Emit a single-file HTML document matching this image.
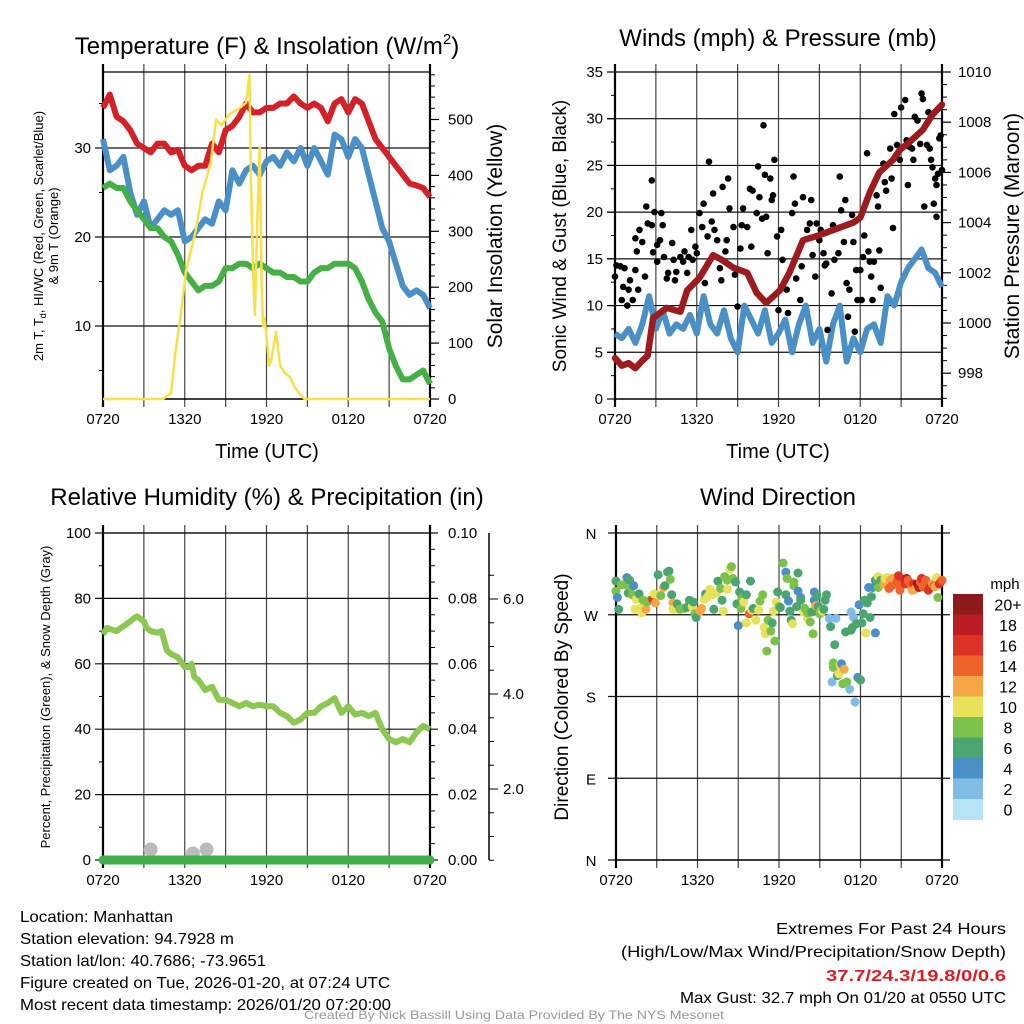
<!DOCTYPE html>
<html><head><meta charset="utf-8"><title>Mesonet Manhattan</title>
<style>
html,body{margin:0;padding:0;background:#fff;}
svg{display:block;font-family:"Liberation Sans",Arial,sans-serif;}
</style></head>
<body>
<svg id="chart" width="1024" height="1024" viewBox="0 0 1024 1024" xmlns="http://www.w3.org/2000/svg">
<rect x="0" y="0" width="1024" height="1024" fill="#fff"/>
<g id="layer"></g>
<!-- titles -->
<text x="267" y="54" font-size="24" text-anchor="middle">Temperature (F) &amp; Insolation (W/m<tspan font-size="15" dy="-10">2</tspan><tspan dy="10">)</tspan></text>
<text x="778" y="46" font-size="24" text-anchor="middle">Winds (mph) &amp; Pressure (mb)</text>
<text x="267" y="505" font-size="24" text-anchor="middle">Relative Humidity (%) &amp; Precipitation (in)</text>
<text x="778" y="505" font-size="24" text-anchor="middle">Wind Direction</text>
<!-- axis titles -->
<text x="267" y="458" font-size="20" text-anchor="middle">Time (UTC)</text>
<text x="778" y="458" font-size="20" text-anchor="middle">Time (UTC)</text>
<text transform="translate(43,236) rotate(-90)" font-size="13" text-anchor="middle">2m T, T<tspan font-size="9" dy="3">d</tspan><tspan dy="-3">, HI/WC (Red, Green, Scarlet/Blue)</tspan></text>
<text transform="translate(58,236) rotate(-90)" font-size="13" text-anchor="middle">&amp; 9m T (Orange)</text>
<text transform="translate(502,236) rotate(-90)" font-size="21" text-anchor="middle">Solar Insolation (Yellow)</text>
<text transform="translate(566,236) rotate(-90)" font-size="19" text-anchor="middle">Sonic Wind &amp; Gust (Blue, Black)</text>
<text transform="translate(1019,236) rotate(-90)" font-size="21" text-anchor="middle">Station Pressure (Maroon)</text>
<text transform="translate(50,697) rotate(-90)" font-size="13" text-anchor="middle">Percent, Precipitation (Green), &amp; Snow Depth (Gray)</text>
<text transform="translate(568,697) rotate(-90)" font-size="19" text-anchor="middle">Direction (Colored By Speed)</text>
<text x="1005" y="589" font-size="15" text-anchor="middle">mph</text>
<!-- footer -->
<g font-size="16">
<text x="20" y="922" textLength="153" lengthAdjust="spacingAndGlyphs">Location: Manhattan</text>
<text x="20" y="944" textLength="214" lengthAdjust="spacingAndGlyphs">Station elevation: 94.7928 m</text>
<text x="20" y="966" textLength="246" lengthAdjust="spacingAndGlyphs">Station lat/lon: 40.7686; -73.9651</text>
<text x="20" y="988" textLength="370" lengthAdjust="spacingAndGlyphs">Figure created on Tue, 2026-01-20, at 07:24 UTC</text>
<text x="20" y="1010" textLength="371" lengthAdjust="spacingAndGlyphs">Most recent data timestamp: 2026/01/20 07:20:00</text>
</g>
<g font-size="16">
<text x="776" y="934" textLength="230" lengthAdjust="spacingAndGlyphs">Extremes For Past 24 Hours</text>
<text x="621" y="957" textLength="385" lengthAdjust="spacingAndGlyphs">(High/Low/Max Wind/Precipitation/Snow Depth)</text>
<text x="826" y="981" textLength="180" lengthAdjust="spacingAndGlyphs" font-weight="bold" fill="#d42027">37.7/24.3/19.8/0/0.6</text>
<text x="680" y="1003" textLength="326" lengthAdjust="spacingAndGlyphs">Max Gust: 32.7 mph On 01/20 at 0550 UTC</text>
</g>
<text x="304" y="1019" font-size="12" fill="#999" textLength="420" lengthAdjust="spacingAndGlyphs">Created By Nick Bassill Using Data Provided By The NYS Mesonet</text>
</svg>
<script>
// ---------- data ----------
const xTickLabels = ["0720","1320","1920","0120","0720"];
const halfHours = [0,0.5,1,1.5,2,2.5,3,3.5,4,4.5,5,5.5,6,6.5,7,7.5,8,8.5,9,9.5,10,10.5,11,11.5,12,12.5,13,13.5,14,14.5,15,15.5,16,16.5,17,17.5,18,18.5,19,19.5,20,20.5,21,21.5,22,22.5,23,23.5,24];
const tempValues = [34.5,36,33.5,33,32,30.5,30,29.5,30.5,30.5,29.5,29.8,28,27.5,28,28,30.5,29.5,32,32.5,33.5,35,34,34,34.5,34.5,35,35,35.8,35,34.5,35,34.5,33,35,35.5,34,35.5,35,33,31,30,29,28,27,26,25.8,25.5,24.5];
const windChillValues = [31,27.5,28,29,25,22.5,24,21,22,23,22.5,23,19.5,20,21,22,21.5,24,23,27.5,26,27.5,28,27,28.5,29,28,29.5,28.5,30,28,30,28.5,27,31.5,31,29,31,30,27,24,21,19.5,17,14.5,13.5,14,13.5,12];
const dewpointValues = [25.5,26,25.5,25.5,24,23,22,21,21,20,19.5,18,16,15,14,14.5,14.5,15,16.5,16.5,17,17,16.5,17,16.5,16,16,15.5,15.5,15,15,16,16.5,16.5,17,17,17,16.5,15,13,11.5,10.5,7.5,5.5,4,4,4.5,5,3.5];
const tempTicks = [10,20,30];
const insolTicks = [0,100,200,300,400,500];
const insolHours = [0,4.4,5.0,5.3,5.7,6.1,6.8,7.3,7.9,8.3,8.7,9.3,10.0,10.5,10.75,10.85,11.05,11.15,11.3,11.5,11.65,11.75,11.85,12.05,12.2,12.35,12.7,13.0,13.4,13.7,14.1,14.4,14.8,24];
const insolValues = [0,0,10,80,150,230,300,370,420,500,490,510,520,530,580,400,200,150,300,450,200,130,145,100,60,70,120,60,45,40,20,10,0,0];

const windValues = [7,6.5,7.5,6,8,11,7.5,9.5,7,8,7.5,9,7,11,8,7,9.5,6.5,5,10,8.5,7,9.5,6,7,8.5,5,8,10,6,7.5,4,8,10,4,6.5,5,7.5,8,6,11,10,12.5,14,15,16,14,13.5,12];
const windTicks = [0,5,10,15,20,25,30,35];
const pressureTicks = [998,1000,1002,1004,1006,1008,1010];
const pressureHours = [0,0.5,1,1.5,2,2.4,2.8,3.8,4.8,5.3,6.2,7.2,7.9,8.7,9.7,10.4,11.1,12.1,12.8,13.8,15,16,16.5,17.5,18,18.7,19.4,20.4,20.9,21.6,22.6,23.3,24];
const pressureValues = [998.6,998.3,998.4,998.2,998.5,998.7,1000.2,1000.6,1000.45,1001.3,1001.8,1002.7,1002.5,1002.2,1002,1001.2,1000.8,1001.3,1002,1003.3,1003.5,1003.7,1003.8,1004,1004.2,1005.2,1006,1006.5,1006.9,1007.2,1007.7,1008.3,1008.7];
const gustHours = [0,0.1,0.4,0.6,0.5,0.7,0.9,1,1.1,1.3,1.5,1.5,1.6,1.7,1.8,2,2.2,2.3,2.4,2.7,2.7,2.8,2.9,3.1,3.1,3.3,3.4,3.5,3.6,3.8,3.9,4.2,4.3,4.4,4.5,4.8,5,5.1,5.3,5.4,5.6,5.7,5.9,6,6.2,6.4,6.5,6.6,6.8,6.9,7.1,7.2,7.3,7.5,7.7,7.8,7.9,8.1,8.2,8.3,8.4,8.7,8.8,9,9.2,9.3,9.4,9.7,9.9,10,10.1,10.4,10.5,10.6,10.8,10.9,11,11.1,11.2,11.4,11.5,11.6,11.7,11.9,12,12.2,12.3,12.6,12.7,13,13.1,13.2,13.3,13.6,13.7,13.8,14.1,14.3,14.4,14.5,14.7,14.8,15,15.1,15.3,15.4,15.5,15.6,15.9,16,16.1,16.4,16.5,16.6,16.8,16.9,17,17.1,17.2,17.4,17.5,17.6,17.7,17.8,18,18.1,18.2,18.3,18.5,18.6,18.7,18.8,18.9,19,19.2,19.3,19.4,19.5,19.7,19.8,19.9,20.2,20.3,20.4,20.5,20.7,20.9,21,21.3,21.4,21.5,21.6,21.8,21.9,22,22.2,22.4,22.5,22.6,22.7,22.9,23,23.1,23.2,23.3,23.4,23.5,23.6,23.6,23.7,23.8,23.9,24];
const gustValues = [13.1,14.3,14.2,12,10.6,14,10,11.7,12.7,10.6,13.8,17.2,15.8,11.7,18.1,16.8,13.1,20.6,18.8,23.4,18.6,15.7,20,16.5,14.7,17,19.9,18.6,15.2,12.9,13.5,16.7,14.9,12.7,13.6,15.2,14.7,15.8,13.5,15.2,18.1,14.9,16.3,15.6,19.9,18.4,20.9,12.4,17.4,25.4,19,22,18.1,17,14,12.7,22.7,15.8,17,23.6,20.4,18.4,13.3,9.9,16.1,18.6,20.4,18.4,22.5,16.3,22.3,19.9,24.9,21.6,19.3,29.3,24,19.5,15.6,23.6,21.3,21.8,25.6,17.4,9.5,18.1,14.9,11.7,9.2,19.9,23.8,20.9,12.9,10.6,14.2,21.6,18.1,18.8,21.3,15.4,13.1,18.8,17,18.1,15.6,14.3,14.5,7.4,11.3,18.6,14.9,15.6,23.8,20.2,16.8,21.3,12.4,8.8,11.7,19.7,16.8,7.2,13.8,10.6,13.8,10.6,15.2,17.5,26.3,15.8,14.7,13.1,10.6,14.7,21.8,20.6,15.9,11.9,25.2,23.2,22.3,26.8,23.6,18.3,30.5,27.2,25.6,31.2,32,27.7,22.9,27,26.8,25.6,30.2,29.8,27.3,32.7,32.1,20.6,27.2,30.7,26.8,25.6,24.8,20.9,23.6,22.9,19.5,24.1,27.9,28.2,24.5];

const rhTicks = [0,20,40,60,80,100];
const precipTicks = ["0.00","0.02","0.04","0.06","0.08","0.10"];
const snowTicks = ["2.0","4.0","6.0"];
const rhHours = [0,0.3,0.6,1,1.5,2,2.3,2.5,3,3.2,3.5,4,4.3,4.5,4.7,5,5.5,6,6.3,6.5,6.7,7,7.5,8,8.5,9,9.5,10,10.5,11,11.5,12,12.5,13,13.5,14,14.5,15,15.5,16,16.5,17,17.5,18,18.5,19,19.5,20,20.5,21,21.5,22,22.5,23,23.5,24];
const rhValues = [69,71,70.5,70,71.5,73,74,74.5,73,71,70,69.5,70,67,64,63,62,59,59,60,56,55,52,53,49,49,48,47,48,47,47.5,47,47,45,44,42,43,45,45,47,48,49.5,45,47,44.5,45,44,45,40,37,36,37,36,39,41,40];
const precipHours = [0,24];
const precipValues = [0,0];
const snowHours = [3.5,6.6,7.6];
const snowValues = [0.08,0.05,0.08];

const dirLabels = ["N","E","S","W","N"];
const dirTicks = [0,90,180,270,360];
const dirHours = [0,0,0.1,0.2,0.4,0.6,0.8,0.9,1.0,1.1,1.2,1.3,1.5,1.4,1.7,1.8,1.9,2.0,2.2,2.3,2.5,2.7,2.8,2.9,3.1,3.1,3.3,3.5,3.6,3.8,3.9,4.0,4.1,4.2,4.2,4.5,4.7,5.0,5.2,5.4,5.6,5.7,5.8,5.9,6.2,6.3,6.5,6.6,6.7,6.8,6.9,7.1,7.2,7.4,7.5,7.7,7.8,7.9,8.0,8.2,8.2,8.4,8.5,8.6,8.8,8.9,9.0,9.1,9.2,9.3,9.4,9.6,9.6,9.8,9.9,10.0,10.1,10.3,10.5,10.6,10.8,10.9,11.0,11.1,11.2,11.4,11.5,11.6,11.7,11.8,11.9,12.0,12.1,12.3,12.5,12.5,12.6,12.7,12.8,12.9,13.0,13.1,13.1,13.3,13.4,13.4,13.6,13.6,13.8,13.9,14.1,14.1,14.3,14.4,14.5,14.6,14.6,14.7,14.8,14.9,15.0,15.1,15.2,15.3,15.4,15.5,15.7,15.8,16.0,15.9,16.0,16.1,16.2,16.3,16.4,16.5,16.6,16.7,16.8,16.9,17.0,17.2,17.3,17.3,17.4,17.5,17.6,17.7,17.8,17.9,18.0,18.1,18.2,18.3,18.4,18.5,18.6,18.7,18.8,18.9,19.1,19.1,19.3,19.3,19.5,19.7,19.8,20.0,20.1,20.2,20.3,20.4,20.6,20.7,20.8,20.9,21.1,21.2,21.3,21.4,21.5,21.7,21.8,21.9,22.0,22.2,22.3,22.4,22.5,22.6,22.8,22.9,23.0,23.1,23.3,23.4,23.5,23.6,23.7,23.8,23.9,24.0];
const dirValues = [307,296,289,276,303,303,311,294,308,300,292,302,287,276,293,277,272,286,276,284,286,287,293,283,314,292,291,300,302,317,318,309,292,283,276,282,276,277,278,286,279,284,271,267,274,277,287,293,289,291,298,292,276,294,307,299,286,274,312,308,298,320,323,310,306,282,258,295,277,288,284,261,292,271,307,275,277,264,275,285,292,256,249,230,264,252,261,274,241,284,295,279,278,327,317,292,310,285,274,264,260,306,302,279,316,296,289,286,273,277,266,272,262,273,249,295,286,280,291,279,271,275,274,276,286,292,266,257,217,196,212,237,266,203,205,215,216,194,210,251,196,188,273,253,256,267,174,260,201,281,198,261,271,286,250,283,300,267,290,300,250,308,312,300,308,304,310,311,299,308,302,310,304,307,313,297,305,309,304,310,308,302,297,304,298,304,300,306,310,301,308,299,297,300,304,302,301,311,289,304,306,308];
const dirSpeeds = [7,9,5,7,9,9,5,7,7,9,9,5,11,11,7,11,11,9,13,9,9,17,11,13,7,11,9,13,7,7,7,9,7,13,11,7,9,9,7,7,11,7,9,7,13,13,11,7,11,11,11,11,7,11,7,9,7,11,9,9,11,11,9,9,7,7,5,7,9,9,11,11,7,15,7,11,7,11,11,9,9,11,11,9,9,9,7,11,9,11,7,9,7,9,5,7,9,5,7,7,11,9,9,7,7,5,5,7,11,9,11,9,9,7,9,5,5,13,7,7,9,9,11,7,7,7,3,7,9,3,9,7,3,7,11,11,5,9,13,7,9,3,3,7,7,3,3,7,5,5,7,7,7,7,11,7,5,7,7,5,5,7,11,9,7,13,11,11,15,13,15,13,15,15,17,15,15,17,17,19,15,15,13,17,13,21,19,15,17,15,15,15,17,17,13,15,13,11,9,17,17,15];
const speedBinLabels = ["0","2","4","6","8","10","12","14","16","18","20+"];
const speedBinColors = ["#b7e3f7","#80bce6","#4a8fc6","#4aa56e","#7cc24a","#e7e15c","#f5a745","#f0622b","#dc3326","#bc1c23","#8e1a1a"];

// ---------- helpers ----------
const NS = "http://www.w3.org/2000/svg";
const layer = document.getElementById("layer");
function mk(tag, attrs, parent) {
  const el = document.createElementNS(NS, tag);
  for (const k in attrs) el.setAttribute(k, attrs[k]);
  (parent || layer).appendChild(el);
  return el;
}
function line(x1,y1,x2,y2,stroke,w,parent){ return mk("line",{x1:x1,y1:y1,x2:x2,y2:y2,stroke:stroke,"stroke-width":w},parent); }
function txt(x,y,s,size,anchor,parent){ const t = mk("text",{x:x,y:y,"font-size":size,"text-anchor":anchor},parent); t.textContent = s; return t; }
function pathFrom(xs, ys) { let d=""; for (let i=0;i<xs.length;i++) d += (i?"L":"M")+xs[i].toFixed(1)+","+ys[i].toFixed(1); return d; }

function frame(name, L, T, W, H) {
  const g = mk("g", {});
  
  
  for (let i = 0; i <= 8; i++) {
    const x = L + i * W / 8;
    const gl = line(x, T - 8, x, T + H + 8, "#444", 1.2, g);
    
    
  }
  for (let i = 0; i < xTickLabels.length; i++) {
    const t = txt(L + i * W / 4, T + H + 25, xTickLabels[i], 15, "middle", g);
    
    
  }
  line(L, T, L + W, T, "#000", 1.2, g);
  line(L, T + H, L + W, T + H, "#000", 1.5, g);
  line(L, T - 8, L, T + H + 8, "#000", 2.2, g);
  line(L + W, T - 8, L + W, T + H + 8, "#000", 2.2, g);
  return g;
}
function hgrid(g, L, W, y, withLeft, withRight) {
  const gl = line(L - (withLeft?8:0), y, L + W + (withRight?8:0), y, "#111", 1.2, g);
  
  
}

// ---------- Panel 1 ----------
(function(){
  const L=103,T=72,W=327,H=327;
  const xs = h => L + h * W / 24;
  const yT = v => 415 - v * 8.9;
  const yS = w => 399 - w * 0.559;
  const g = frame("temperature", L, T, W, H);
  tempTicks.forEach(v => {
    hgrid(g, L, W, yT(v), true, false);
    const t = txt(L - 12, yT(v) + 5, String(v), 15, "end", g);
    
    
  });
  for (let v = 5; v <= 35; v += 10) line(L - 4, yT(v), L, yT(v), "#000", 1, g);
  insolTicks.forEach(v => {
    line(L + W, yS(v), L + W + 9, yS(v), "#000", 1.2, g);
    const t = txt(L + W + 18, yS(v) + 5, String(v), 15, "start", g);
    
    
  });
  for (let v = 20; v <= 580; v += 20) if (v % 100) line(L + W, yS(v), L + W + 5, yS(v), "#000", 1, g);
  const hx = halfHours.map(xs);
  const red = mk("path",{d:pathFrom(hx,tempValues.map(yT)),fill:"none",stroke:"#d42027","stroke-width":6,"stroke-linejoin":"round"});
  
  
  const blue = mk("path",{d:pathFrom(hx,windChillValues.map(yT)),fill:"none",stroke:"#4a8fc6","stroke-width":6,"stroke-linejoin":"round"});
  
  
  const green = mk("path",{d:pathFrom(hx,dewpointValues.map(yT)),fill:"none",stroke:"#45b046","stroke-width":6,"stroke-linejoin":"round"});
  
  
  const yel = mk("path",{d:pathFrom(insolHours.map(xs),insolValues.map(yS)),fill:"none",stroke:"#f7e04b","stroke-width":2.5,"stroke-linejoin":"round"});
  
  
})();

// ---------- Panel 2 ----------
(function(){
  const L=615,T=72,W=327,H=327;
  const xs = h => L + h * W / 24;
  const yW = v => 399 - v * 9.343;
  const yP = p => 72 + (1010 - p) * 25.1;
  const g = frame("winds", L, T, W, H);
  windTicks.forEach(v => {
    if (v > 0 && v < 35) hgrid(g, L, W, yW(v), true, false);
    line(L - 8, yW(v), L, yW(v), "#000", 1.2, g);
    const t = txt(L - 12, yW(v) + 5, String(v), 15, "end", g);
    
    
  });
  for (let v = 2.5; v < 35; v += 5) line(L - 4, yW(v), L, yW(v), "#000", 1, g);
  pressureTicks.forEach(v => {
    line(L + W, yP(v), L + W + 9, yP(v), "#000", 1.2, g);
    const t = txt(L + W + 16, yP(v) + 5, String(v), 15, "start", g);
    
    
  });
  for (let v = 997; v < 1010; v += 0.5) if (v % 2) line(L + W, yP(v), L + W + 5, yP(v), "#000", 1, g);
  const blue = mk("path",{d:pathFrom(halfHours.map(xs),windValues.map(yW)),fill:"none",stroke:"#4a8fc6","stroke-width":6,"stroke-linejoin":"round"});
  
  
  const dots = mk("g",{fill:"#000"});
  
  
  for (let i = 0; i < gustHours.length; i++) {
    const c = mk("circle",{cx:xs(gustHours[i]).toFixed(1),cy:yW(gustValues[i]).toFixed(1),r:3.3},dots);
    
    
  }
  const pr = mk("path",{d:pathFrom(pressureHours.map(xs),pressureValues.map(yP)),fill:"none",stroke:"#9b1b1e","stroke-width":6.5,"stroke-linejoin":"round","stroke-linecap":"round"});
  
  
})();

// ---------- Panel 3 ----------
(function(){
  const L=103,T=533,W=327,H=327;
  const xs = h => L + h * W / 24;
  const yR = v => 860 - v * 3.27;
  const g = frame("humidity", L, T, W, H);
  rhTicks.forEach((v,i) => {
    hgrid(g, L, W, yR(v), true, true);
    const t = txt(L - 12, yR(v) + 5, String(v), 15, "end", g);
    
    
    const p = txt(L + W + 18, yR(v) + 5, precipTicks[i], 15, "start", g);
    
    
  });
  for (let v = 10; v < 100; v += 20) line(L - 4, yR(v), L, yR(v), "#000", 1, g);
  for (let v = 5; v < 100; v += 5) if (v % 20) line(L + W, yR(v), L + W + 5, yR(v), "#000", 1, g);
  const sa = mk("g",{});
  
  
  line(489, 533, 489, 860, "#000", 1.5, sa);
  const ySn = v => 884 - v * 47.5;
  for (let v = 0.5; v <= 6.5; v += 0.5) {
    const isMaj = (v % 2 === 0);
    line(489, ySn(v), 489 + (isMaj ? 9 : 5), ySn(v), "#000", 1, sa);
  }
  snowTicks.forEach(s => {
    const t = txt(503, ySn(parseFloat(s)) + 5, s, 15, "start", sa);
    
    
  });
  for (let i = 0; i < snowHours.length; i++) {
    const c = mk("circle",{cx:xs(snowHours[i]),cy:yR(snowValues[i]*40),r:7,fill:"#bbb"});
    
    
  }
  const pr = mk("path",{d:pathFrom(precipHours.map(xs),precipValues.map(v=>yR(v*1000))),fill:"none",stroke:"#3fae49","stroke-width":9,"stroke-linecap":"round"});
  
  
  const rh = mk("path",{d:pathFrom(rhHours.map(xs),rhValues.map(yR)),fill:"none",stroke:"#8cc751","stroke-width":6,"stroke-linejoin":"round"});
  
  
})();

// ---------- Panel 4 ----------
(function(){
  const L=616,T=533,W=326,H=327;
  const xs = h => L + h * W / 24;
  const yD = d => 860 - d * H / 360;
  const g = frame("direction", L, T, W, H);
  dirTicks.forEach((v,i) => {
    hgrid(g, L, W, yD(v), true, true);
    const t = txt(L - 25, yD(v) + 6, dirLabels[i], 15, "middle", g);
    
    
  });
  const dots = mk("g",{});
  
  
  for (let i = 0; i < dirHours.length; i++) {
    const bin = Math.min(10, Math.floor(dirSpeeds[i] / 2));
    const c = mk("circle",{cx:xs(dirHours[i]).toFixed(1),cy:yD(dirValues[i]).toFixed(1),r:4.5,fill:speedBinColors[bin]},dots);
    
    
  }
  const cb = mk("g",{});
  
  
  const top = 594, bh = 20.5;
  for (let i = 0; i < speedBinColors.length; i++) {
    const k = speedBinColors.length - 1 - i;
    const r = mk("rect",{x:953,y:(top + i*bh).toFixed(1),width:30,height:bh+0.5,fill:speedBinColors[k]},cb);
    
    
    const t = txt(1008, top + i*bh + bh/2 + 6, speedBinLabels[k], 16, "middle", cb);
    
    
  }
})();
</script>
</body></html>
